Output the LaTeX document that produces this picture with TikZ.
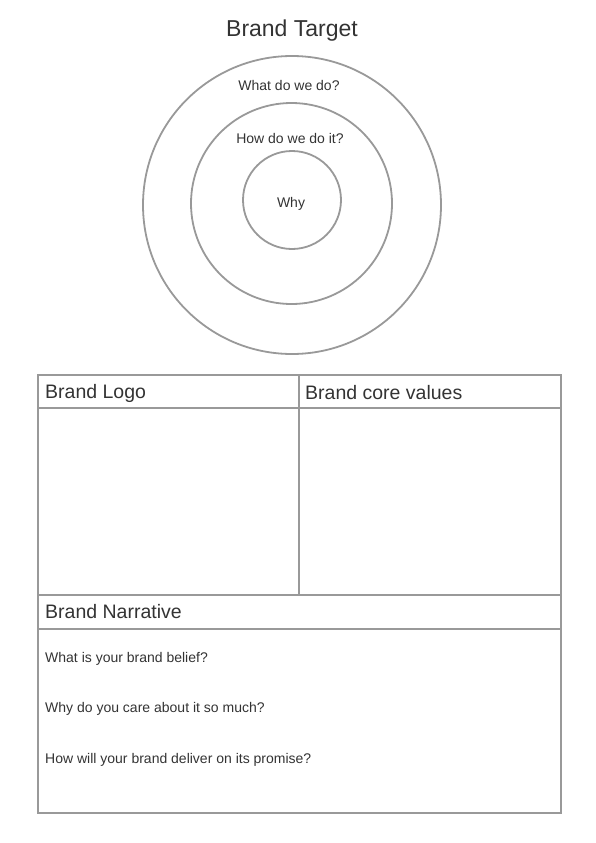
\documentclass[tikz,border=0pt]{standalone}
\usepackage{fontspec}
\setmainfont{Liberation Sans}
\definecolor{rule}{HTML}{999999}
\definecolor{ink}{HTML}{333333}
\begin{document}
\begin{tikzpicture}[x=1pt,y=-1pt,
  ring/.style={circle,draw=rule,line width=1.8pt,inner sep=0pt},
  cell/.style={rectangle,draw=rule,line width=2pt,inner sep=0pt,anchor=north west},
  title/.style={text=ink,font=\fontsize{23}{26}\selectfont},
  head/.style={text=ink,font=\fontsize{19.5}{22}\selectfont,anchor=west,inner sep=0pt},
  small/.style={text=ink,font=\fontsize{14}{16}\selectfont,inner sep=0pt},
  question/.style={small,anchor=west}]
\useasboundingbox (0,0) rectangle (596,843);

% target rings
\node[title] (ttl) at (292,30.5) {Brand Target};
\node[ring,minimum size=298pt] (outer) at (292,205) {};
\node[ring,minimum size=201pt] (middle) at (291.5,203.5) {};
\node[ring,minimum size=98pt] (inner) at (292,200) {};
\node[small] (what) at (289,85) {What do we do?};
\node[small] (how) at (290,138) {How do we do it?};
\node[small] (why) at (291,204) {Why};

% grid of boxes
\node[cell,minimum width=261pt,minimum height=33pt] (logohead) at (37,374) {};
\node[cell,minimum width=262pt,minimum height=33pt] (corehead) at (298,374) {};
\node[cell,minimum width=261pt,minimum height=187pt] (logobody) at (37,407) {};
\node[cell,minimum width=262pt,minimum height=187pt] (corebody) at (298,407) {};
\node[cell,minimum width=523pt,minimum height=34pt] (narrhead) at (37,594) {};
\node[cell,minimum width=523pt,minimum height=184pt] (narrbody) at (37,628) {};

\node[head] (logolbl) at (45,393) {Brand Logo};
\node[head] (corelbl) at (305,393) {Brand core values};
\node[head] (narrlbl) at (45,612) {Brand Narrative};

\node[question] (q1) at (45,659) {What is your brand belief?};
\node[question] (q2) at (45,709) {Why do you care about it so much?};
\node[question] (q3) at (45,760) {How will your brand deliver on its promise?};
\end{tikzpicture}
\end{document}
